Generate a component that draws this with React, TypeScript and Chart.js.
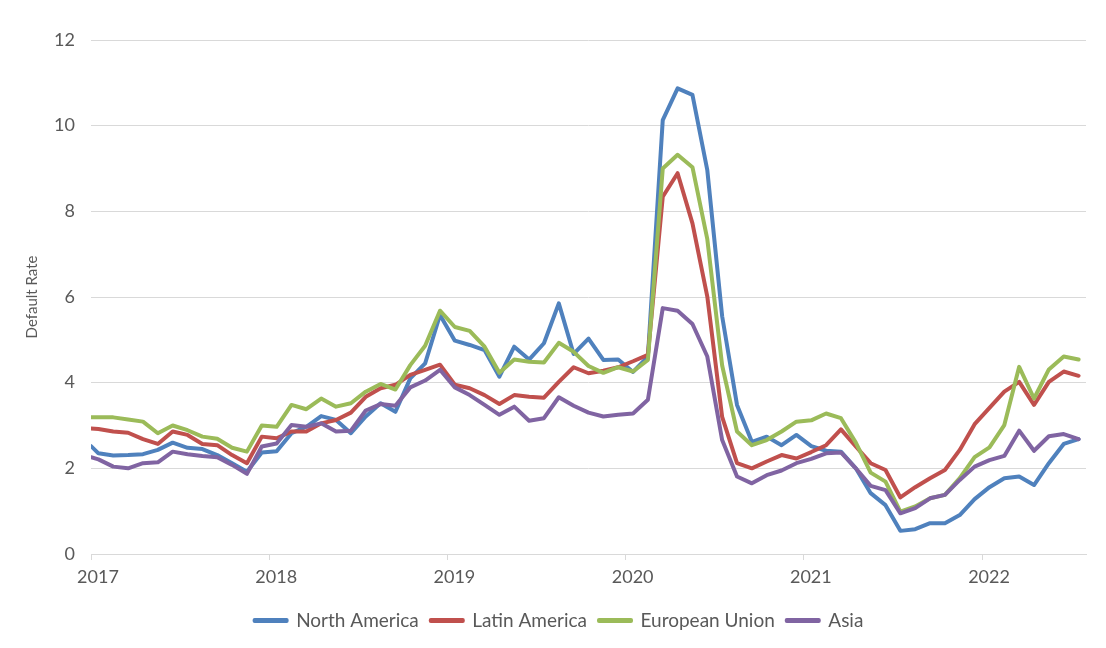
import React, { useEffect, useRef } from "react";
import { Chart, registerables } from "chart.js";

Chart.register(...registerables);

const yearLabels = ["2017", "2018", "2019", "2020", "2021", "2022"];
const seriesNames = ["North America", "Latin America", "European Union", "Asia"];
const seriesColors = ["#4F81BD", "#C0504D", "#9BBB59", "#8064A2"];

// Position in months from Jan 2017: axis start, then mid-month Jan 2017 … Jul 2022
const pointMonths = [0, ...Array.from({ length: 67 }, (_, k) => k + 0.5)];

const northAmerica = [
  2.52, 2.35, 2.30, 2.31, 2.33, 2.43, 2.60, 2.48, 2.45, 2.31, 2.12,
  1.92, 2.37, 2.40, 2.82, 2.97, 3.22, 3.13, 2.82, 3.21, 3.52,
  3.32, 4.10, 4.45, 5.58, 4.98, 4.88, 4.76, 4.14, 4.84, 4.54,
  4.92, 5.85, 4.67, 5.03, 4.53, 4.54, 4.25, 4.61, 10.13, 10.87,
  10.72, 8.96, 5.55, 3.48, 2.62, 2.74, 2.54, 2.78, 2.52, 2.41,
  2.39, 2.00, 1.42, 1.14, 0.54, 0.58, 0.72, 0.72, 0.91, 1.28,
  1.56, 1.77, 1.81, 1.61, 2.12, 2.57, 2.68,
];

const latinAmerica = [
  2.93, 2.92, 2.86, 2.83, 2.68, 2.57, 2.86, 2.78, 2.57, 2.54, 2.31,
  2.12, 2.74, 2.70, 2.86, 2.86, 3.05, 3.13, 3.30, 3.67, 3.87,
  3.95, 4.18, 4.30, 4.42, 3.95, 3.87, 3.71, 3.50, 3.71, 3.67,
  3.65, 4.02, 4.36, 4.22, 4.28, 4.36, 4.50, 4.65, 8.34, 8.89,
  7.72, 6.01, 3.20, 2.12, 2.00, 2.16, 2.31, 2.23, 2.38, 2.54,
  2.91, 2.51, 2.12, 1.96, 1.32, 1.56, 1.77, 1.96, 2.43, 3.03,
  3.41, 3.79, 4.02, 3.48, 4.02, 4.26, 4.16,
];

const europeanUnion = [
  3.19, 3.19, 3.19, 3.14, 3.09, 2.82, 3.00, 2.89, 2.74, 2.69, 2.48,
  2.39, 3.00, 2.97, 3.48, 3.38, 3.63, 3.44, 3.52, 3.79, 3.97,
  3.84, 4.41, 4.86, 5.68, 5.30, 5.21, 4.84, 4.23, 4.54, 4.49,
  4.47, 4.93, 4.72, 4.39, 4.23, 4.36, 4.26, 4.53, 9.00, 9.32,
  9.03, 7.35, 4.40, 2.86, 2.54, 2.66, 2.86, 3.09, 3.12, 3.28,
  3.17, 2.60, 1.90, 1.69, 0.99, 1.11, 1.30, 1.38, 1.77, 2.26,
  2.49, 3.01, 4.37, 3.63, 4.31, 4.61, 4.54,
];

const asia = [
  2.26, 2.21, 2.04, 2.00, 2.12, 2.14, 2.39, 2.33, 2.29, 2.26, 2.08,
  1.87, 2.51, 2.58, 3.01, 2.97, 3.05, 2.86, 2.88, 3.35, 3.50,
  3.46, 3.89, 4.05, 4.30, 3.89, 3.71, 3.48, 3.25, 3.44, 3.11,
  3.17, 3.66, 3.46, 3.30, 3.21, 3.25, 3.28, 3.60, 5.74, 5.68,
  5.37, 4.61, 2.66, 1.81, 1.65, 1.84, 1.95, 2.12, 2.22, 2.35,
  2.37, 2.00, 1.59, 1.49, 0.95, 1.07, 1.30, 1.38, 1.73, 2.04,
  2.19, 2.29, 2.88, 2.41, 2.75, 2.80, 2.68,
];

const yTitle = "Default Rate";
const textColor = "#595959";
const gridColor = "#d9d9d9";
const fontFamily = "Lato, 'Open Sans', sans-serif";

export default function App() {
  const ref = useRef<HTMLCanvasElement>(null);

  useEffect(() => {
    const canvas = ref.current;
    if (!canvas) return;
    const series = [northAmerica, latinAmerica, europeanUnion, asia];
    const chart = new Chart(canvas, {
      type: "line",
      data: {
        datasets: series.map((vals, i) => ({
          label: seriesNames[i],
          data: vals.map((v, j) => ({ x: pointMonths[j], y: v })),
          borderColor: seriesColors[i],
          backgroundColor: seriesColors[i],
          borderWidth: 4,
          pointRadius: 0,
          pointHoverRadius: 0,
          tension: 0,
          fill: false,
          borderJoinStyle: "round" as const,
          borderCapStyle: "round" as const,
          order: series.length - 1 - i,
        })),
      },
      options: {
        responsive: false,
        animation: false,
        devicePixelRatio: 1,
        layout: { padding: { top: 40, right: 0, bottom: 8, left: 12 } },
        plugins: {
          legend: {
            position: "bottom",
            labels: {
              boxWidth: 32,
              boxHeight: 1,
              padding: 12,
              color: textColor,
              font: { family: fontFamily, size: 19 },
              sort: (a: any, b: any) => a.datasetIndex - b.datasetIndex,
            },
          },
          tooltip: { enabled: false },
        },
        scales: {
          x: {
            type: "linear",
            min: 0,
            max: 67,
            afterBuildTicks: (s: any) => {
              s.ticks = yearLabels.map((_, i) => ({ value: i * 12 }));
            },
            afterFit: (s: any) => {
              s.height = 45;
            },
            ticks: {
              callback: (v: any) => yearLabels[Math.round(Number(v) / 12)],
              labelOffset: 7,
              padding: 6,
              autoSkip: false,
              maxRotation: 0,
              color: textColor,
              font: { family: fontFamily, size: 18 },
            },
            grid: {
              drawOnChartArea: false,
              drawTicks: true,
              tickLength: 6,
              color: gridColor,
            },
            border: { display: true, color: gridColor },
          },
          y: {
            min: 0,
            max: 12,
            afterFit: (s: any) => {
              s.width = 79;
            },
            ticks: {
              stepSize: 2,
              padding: 16,
              color: textColor,
              font: { family: fontFamily, size: 18 },
            },
            grid: { color: gridColor, drawTicks: false },
            border: { display: false },
            title: {
              display: true,
              text: yTitle,
              color: textColor,
              font: { family: fontFamily, size: 15 },
              padding: { top: 11, bottom: 0 },
            },
          },
          rightGap: {
            type: "linear",
            position: "right",
            display: true,
            afterFit: (s: any) => {
              s.width = 20;
            },
            ticks: { display: false },
            grid: { display: false, drawTicks: false },
            border: { display: false },
          },
        },
      },
    } as any);
    return () => chart.destroy();
  }, []);

  return (
    <div style={{ position: "fixed", left: 0, top: 0, width: 1106, height: 648, background: "#fff" }}>
      <canvas ref={ref} width={1106} height={648} />
    </div>
  );
}
